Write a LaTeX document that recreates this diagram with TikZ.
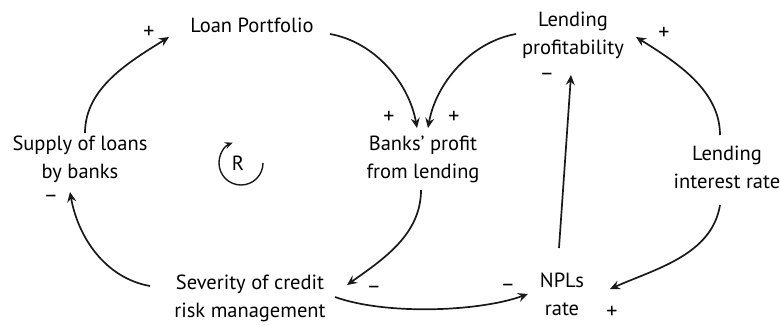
\documentclass[tikz,border=0pt]{standalone}
\usepackage{fontspec}
\setmainfont{PT Sans}
\usetikzlibrary{arrows.meta,calc}
\begin{document}
\begin{tikzpicture}[x=1pt,y=1pt,yscale=-1,
  var/.style={align=center,inner sep=0pt,font=\fontsize{20.5}{28}\selectfont},
  sgn/.style={inner sep=0pt,font=\fontsize{22}{22}\selectfont},
  link/.style={line width=1.7pt,draw=black!90,-{Stealth[length=10pt,width=9pt,inset=3.5pt]}}]
\useasboundingbox (0,0) rectangle (780,325);
% variables
\node[var] (loan) at (252,25) {Loan Portfolio};
\node[var] (supply) at (80,159) {Supply of loans\\by banks};
\node[var] (banks) at (423,159) {Banks’ profit\\from lending};
\node[var] (prof) at (573,35) {Lending\\profitability};
\node[var] (rate) at (727,167) {Lending\\interest rate};
\node[var] (sev) at (250,298) {Severity of credit\\risk management};
\node[var] (npl) at (562,294) {NPLs\\rate};
% causal links
\draw[link] ($(supply)+(5,-26)$) .. controls +(0,-45) and +(-40,25) .. ($(loan)+(-83,12)$);
\draw[link] ($(loan)+(78,9)$) .. controls +(45,8) and +(-8,-45) .. ($(banks)+(-6,-31)$);
\draw[link] ($(prof)+(-57,-1)$) .. controls +(-45,8) and +(8,-45) .. ($(banks)+(5,-31)$);
\draw[link] ($(rate)+(-7,-32)$) .. controls +(0,-45) and +(40,25) .. ($(prof)+(63,2)$);
\draw[link] ($(npl)+(-3,-46)$) -- ($(prof)+(-2,40)$);
\draw[link] ($(rate)+(-7,38)$) .. controls +(-8,50) and +(45,-20) .. ($(npl)+(48,-5)$);
\draw[link] ($(banks)+(-2,31)$) .. controls +(0,45) and +(35,-25) .. ($(sev)+(97,-13)$);
\draw[link] ($(sev)+(85,-1)$) .. controls +(50,18) and +(-50,18) .. ($(npl)+(-34,0)$);
\draw[link] ($(sev)+(-100,-12)$) .. controls +(-45,-8) and +(8,45) .. ($(supply)+(-10,33)$);
% polarities
\node[sgn] (p1) at (149,32) {+};
\node[sgn] (p2) at (389,117) {+};
\node[sgn] (p3) at (454,117) {+};
\node[sgn] (p4) at (664,33) {+};
\node[sgn] (m1) at (547,77) {−};
\node[sgn] (m2) at (51,199) {−};
\node[sgn] (m3) at (374,290) {−};
\node[sgn] (m4) at (508,288) {−};
\node[sgn] (p5) at (612,312) {+};
% reinforcing loop marker
\node[var] (loop) at (238,163) {R};
\draw[link,line width=1.4pt,-{Stealth[length=8pt,width=7pt,inset=3pt]}]
  ($(loop)+(25,0)$) arc[start angle=0,end angle=248,radius=22];
\end{tikzpicture}
\end{document}
